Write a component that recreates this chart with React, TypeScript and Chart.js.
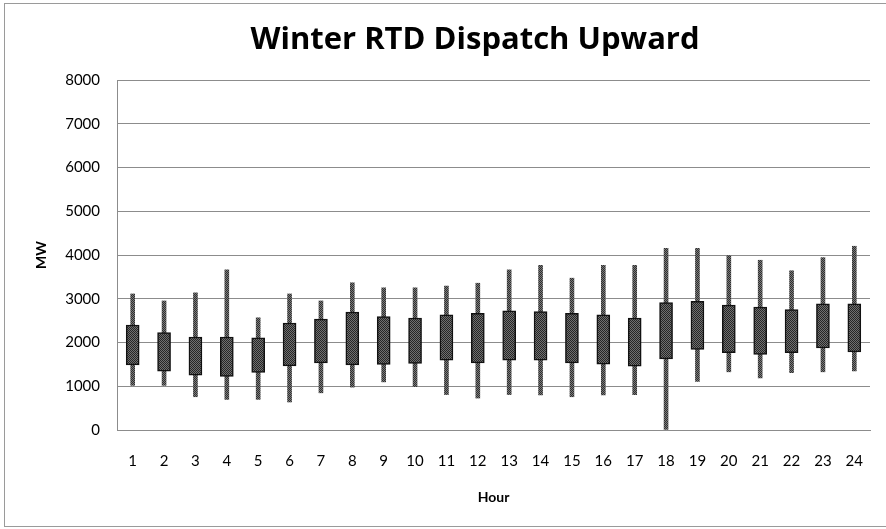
import React, { useEffect, useRef } from "react";
import { Chart, registerables } from "chart.js";

Chart.register(...registerables);

const hours = ["1","2","3","4","5","6","7","8","9","10","11","12","13","14","15","16","17","18","19","20","21","22","23","24"];
const whiskerLow = [1020,1020,760,700,700,640,850,980,1100,990,810,730,810,800,760,800,810,0,1110,1330,1190,1310,1330,1350];
const boxLow = [1490,1345,1255,1225,1315,1465,1535,1490,1500,1520,1595,1535,1595,1595,1535,1505,1460,1625,1840,1765,1725,1765,1875,1785];
const boxHigh = [2400,2225,2125,2125,2105,2445,2535,2695,2595,2560,2635,2665,2725,2705,2665,2630,2560,2910,2940,2855,2810,2750,2885,2885];
const whiskerHigh = [3110,2950,3135,3660,2565,3110,2950,3365,3250,3250,3290,3355,3660,3765,3470,3765,3765,4155,4155,3985,3880,3640,3940,4200];
const yTicks = [0,1000,2000,3000,4000,5000,6000,7000,8000];
const chartTitle = "Winter RTD Dispatch Upward";
const xTitle = "Hour";
const yTitle = "MW";

function makePattern(a: string, b: string): CanvasPattern | string {
  const c = document.createElement("canvas");
  c.width = 2; c.height = 2;
  const g = c.getContext("2d");
  if (!g) return a;
  g.fillStyle = a; g.fillRect(0, 0, 2, 2);
  g.fillStyle = b; g.fillRect(0, 0, 1, 1); g.fillRect(1, 1, 1, 1);
  const p = g.createPattern(c, "repeat");
  return p || a;
}

const frameAndTitle = {
  id: "frameAndTitle",
  afterDraw(chart: any) {
    const ctx = chart.ctx;
    ctx.save();
    ctx.strokeStyle = "#9a9a9a";
    ctx.lineWidth = 1;
    ctx.strokeRect(4.5, 3.5, chart.width + 10, chart.height - 6);
    ctx.fillStyle = "#000";
    ctx.font = "bold 31px 'Open Sans'";
    ctx.textAlign = "center";
    ctx.textBaseline = "alphabetic";
    ctx.fillText(chartTitle, 475, 49);
    ctx.restore();
  },
};

export default function App() {
  const ref = useRef<HTMLCanvasElement>(null);
  useEffect(() => {
    if (!ref.current) return;
    const boxFill = makePattern("#707070", "#262626");
    const whiskFill = makePattern("#7a7a7a", "#2e2e2e");
    const chart = new Chart(ref.current, {
      type: "bar",
      data: {
        labels: hours,
        datasets: [
          {
            label: "Box",
            data: hours.map((_, i) => [boxLow[i], boxHigh[i]]),
            backgroundColor: boxFill as any,
            borderColor: "#111",
            borderWidth: 1.5,
            borderSkipped: false,
            barThickness: 13,
            grouped: false,
          } as any,
          {
            label: "Range",
            data: hours.map((_, i) => [whiskerLow[i], whiskerHigh[i]]),
            backgroundColor: whiskFill as any,
            borderWidth: 0,
            barThickness: 4,
            grouped: false,
          } as any,
        ],
      },
      options: {
        responsive: false,
        animation: false,
        layout: { padding: { left: 4, right: 16, top: 80, bottom: 0 } },
        plugins: { legend: { display: false }, title: { display: false }, tooltip: { enabled: false } },
        scales: {
          x: {
            grid: { display: false, drawTicks: false },
            border: { display: true, color: "#8c8c8c", width: 1 },
            ticks: { color: "#000", font: { family: "Lato", size: 15 }, padding: 22, maxRotation: 0 },
            title: { display: true, text: xTitle, color: "#000", font: { family: "Lato", size: 14, weight: "bold" }, padding: { top: 0, bottom: 23 } },
            afterFit: (s: any) => { s.height = 99; },
          },
          y: {
            min: 0,
            max: 8000,
            afterBuildTicks: (s: any) => { s.ticks = yTicks.map((v) => ({ value: v })); },
            grid: { color: "#8c8c8c", drawTicks: false },
            border: { display: true, color: "#8c8c8c", width: 1 },
            ticks: { color: "#000", font: { family: "Lato", size: 15 }, padding: 17, callback: (v: any) => String(v) },
            title: { display: true, text: yTitle, color: "#000", font: { family: "Lato", size: 14, weight: "bold" }, padding: { top: 29, bottom: 0 } },
            afterFit: (s: any) => { s.width = 113; },
          },
        },
      },
      plugins: [frameAndTitle],
    });
    return () => chart.destroy();
  }, []);
  return (
    <div style={{ position: "fixed", left: 0, top: 0, width: 886, height: 529, background: "#fff" }}>
      <canvas ref={ref} width={886} height={529} style={{ display: "block" }} />
    </div>
  );
}
